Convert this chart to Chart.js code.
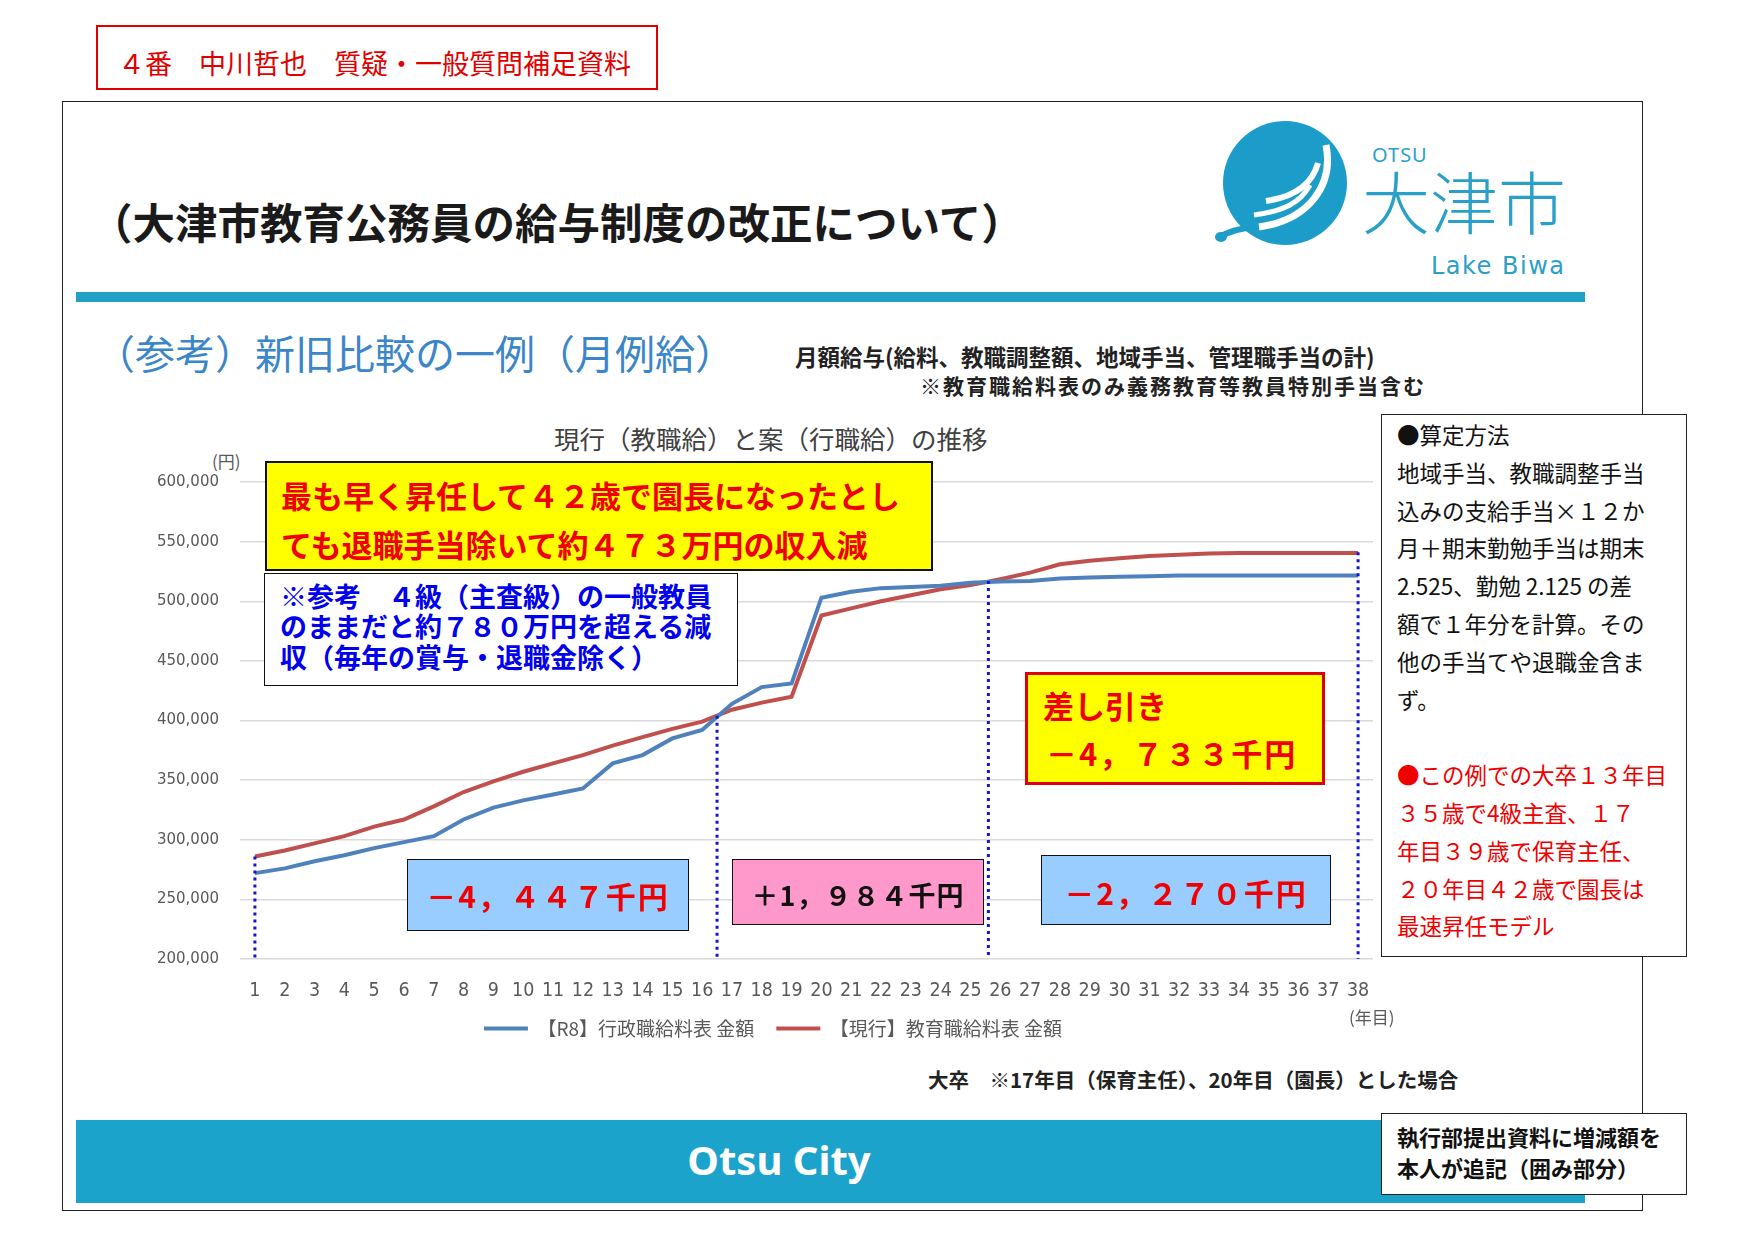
<!DOCTYPE html>
<html lang="ja">
<head>
<meta charset="utf-8">
<script src="https://cdn.jsdelivr.net/npm/chart.js@4.4.1/dist/chart.umd.min.js"></script>
<style>
  html, body { margin: 0; padding: 0; background: #fff; }
  body { width: 1754px; height: 1240px; position: relative; overflow: hidden;
         font-family: "Noto Sans CJK JP", "Noto Sans", sans-serif; }
  .abs { position: absolute; white-space: nowrap; line-height: 1; }
  .box { position: absolute; box-sizing: border-box; }
  #chartWrap { position: absolute; left: 140px; top: 440px; width: 1260px; height: 608px; }
</style>
</head>
<body>

<!-- header label -->
<div class="box" style="left:96px;top:25px;width:562px;height:65px;border:2.5px solid #e00000;"></div>
<div class="abs" style="left:118px;top:49px;font-size:27px;color:#e00000;">４番　中川哲也　質疑・一般質問補足資料</div>

<!-- slide frame -->
<div class="box" style="left:62px;top:101px;width:1581px;height:1110px;border:1.5px solid #222;"></div>

<div class="abs" style="left:90px;top:200px;font-size:42.5px;font-weight:bold;color:#1a1a1a;">（大津市教育公務員の給与制度の改正について）</div>

<!-- logo -->
<svg class="abs" style="left:1214px;top:115px;" width="150" height="140" viewBox="0 0 150 140">
  <circle cx="71" cy="68" r="62" fill="#1c9dc9"/>
  <path d="M112 30 C120 70 95 105 45 112" stroke="#fff" stroke-width="7" fill="none"/>
  <path d="M104 48 C98 70 80 82 52 86" stroke="#fff" stroke-width="6" fill="none"/>
  <path d="M96 70 C86 88 70 96 40 100" stroke="#fff" stroke-width="5" fill="none"/>
  <path d="M40 112 C30 113 15 116 6 122" stroke="#1c9dc9" stroke-width="6" fill="none"/>
  <ellipse cx="7" cy="122" rx="6" ry="5" fill="#1c9dc9"/>
</svg>
<div class="abs" style="left:1372px;top:145px;font-size:20px;color:#2aa0c8;font-family:'Noto Sans',sans-serif;letter-spacing:1px;">OTSU</div>
<div class="abs" style="left:1362px;top:166px;font-size:68px;color:#2aa0c8;font-weight:300;">大津市</div>
<div class="abs" style="left:1431px;top:254px;font-size:24px;color:#2aa0c8;font-family:'DejaVu Sans',sans-serif;letter-spacing:1.5px;">Lake Biwa</div>

<div class="box" style="left:76px;top:292px;width:1509px;height:10px;background:#21a1c6;"></div>

<div class="abs" style="left:95px;top:332px;font-size:40px;color:#3a86c8;">（参考）新旧比較の一例（月例給）</div>
<div class="abs" style="left:795px;top:345px;font-size:22.5px;font-weight:bold;color:#222;">月額給与(給料、教職調整額、地域手当、管理職手当の計)</div>
<div class="abs" style="left:920px;top:375px;font-size:21px;font-weight:bold;color:#222;letter-spacing:2px;">※教育職給料表のみ義務教育等教員特別手当含む</div>

<div class="abs" style="left:554px;top:425px;font-size:25.5px;color:#404040;">現行（教職給）と案（行職給）の推移</div>
<div class="abs" style="left:212px;top:452px;font-size:17px;color:#595959;">(円)</div>

<div id="chartWrap"><canvas id="salaryChart"></canvas></div>

<div class="abs" style="left:1349px;top:1008px;font-size:17px;color:#595959;">(年目)</div>

<!-- overlay boxes -->
<div class="box" style="left:265px;top:461px;width:668px;height:110px;background:#ffff00;border:2px solid #111;"></div>
<div class="abs" style="left:281px;top:479px;font-size:31px;font-weight:bold;color:#f00000;">最も早く昇任して４２歳で園長になったとし</div>
<div class="abs" style="left:281px;top:528px;font-size:31px;font-weight:bold;color:#f00000;">ても退職手当除いて約４７３万円の収入減</div>

<div class="box" style="left:264px;top:573px;width:474px;height:113px;background:#fff;border:1.5px solid #111;"></div>
<div class="abs" style="left:280px;top:582px;font-size:27px;font-weight:bold;color:#0000ee;">※参考　４級（主査級）の一般教員</div>
<div class="abs" style="left:280px;top:612px;font-size:27px;font-weight:bold;color:#0000ee;">のままだと約７８０万円を超える減</div>
<div class="abs" style="left:280px;top:643px;font-size:27px;font-weight:bold;color:#0000ee;">収（毎年の賞与・退職金除く）</div>

<div class="box" style="left:407px;top:859px;width:282px;height:72px;background:#99ccff;border:1.5px solid #111;"></div>
<div class="abs" style="left:407px;top:880px;width:282px;text-align:center;font-size:30px;font-weight:bold;color:#f00000;letter-spacing:2px;">－4，４４７千円</div>

<div class="box" style="left:732px;top:859px;width:252px;height:66px;background:#ff99cc;border:1.5px solid #111;"></div>
<div class="abs" style="left:732px;top:881px;width:252px;text-align:center;font-size:27px;font-weight:bold;color:#111;letter-spacing:1px;">＋1，９８４千円</div>

<div class="box" style="left:1041px;top:855px;width:290px;height:70px;background:#99ccff;border:1.5px solid #111;"></div>
<div class="abs" style="left:1041px;top:877px;width:290px;text-align:center;font-size:30px;font-weight:bold;color:#f00000;letter-spacing:2px;">－2，２７０千円</div>

<div class="box" style="left:1025px;top:672px;width:300px;height:113px;background:#ffff00;border:3px solid #e00000;"></div>
<div class="abs" style="left:1043px;top:689px;font-size:31px;font-weight:bold;color:#f00000;">差し引き</div>
<div class="abs" style="left:1046px;top:737px;font-size:31px;font-weight:bold;color:#f00000;letter-spacing:2px;">－4，７３３千円</div>

<!-- method box -->
<div class="box" style="left:1381px;top:414px;width:306px;height:543px;background:#fff;border:1.5px solid #222;"></div>
<div class="abs" style="left:1397px;top:416px;font-size:22.5px;line-height:37.8px;color:#111;">
●算定方法<br>地域手当、教職調整手当<br>込みの支給手当×１２か<br>月＋期末勤勉手当は期末<br>2.525、勤勉 2.125 の差<br>額で１年分を計算。その<br>他の手当てや退職金含ま<br>ず。<br><br>
<span style="color:#f00000;">●この例での大卒１３年目<br>３５歳で4級主査、１７<br>年目３９歳で保育主任、<br>２０年目４２歳で園長は<br>最速昇任モデル</span>
</div>

<div class="abs" style="left:928px;top:1069px;font-size:20.5px;font-weight:bold;color:#222;">大卒　※17年目（保育主任）、20年目（園長）とした場合</div>

<div class="box" style="left:76px;top:1120px;width:1509px;height:83px;background:#1ba3cc;"></div>
<div class="abs" style="left:76px;top:1140px;width:1406px;text-align:center;font-size:40px;font-weight:bold;color:#fff;font-family:'Noto Sans',sans-serif;">Otsu City</div>

<div class="box" style="left:1381px;top:1113px;width:306px;height:82px;background:#fff;border:1.5px solid #222;"></div>
<div class="abs" style="left:1397px;top:1125px;font-size:22px;font-weight:bold;color:#111;">執行部提出資料に増減額を</div>
<div class="abs" style="left:1397px;top:1156px;font-size:22px;font-weight:bold;color:#111;">本人が追記（囲み部分）</div>

<script>
// 年目
const years = ["1","2","3","4","5","6","7","8","9","10","11","12","13","14","15","16","17","18","19",
  "20","21","22","23","24","25","26","27","28","29","30","31","32","33","34","35","36","37","38"];

// 【R8】行政職給料表 金額 (円)
const gyoseiSalary = [272000, 276000, 282000, 287000, 293000, 298000, 303000, 317000, 327000, 333000,
  338000, 343000, 364000, 371000, 385000, 392000, 414000, 428000, 431000, 503000,
  508000, 511000, 512000, 513000, 515500, 516500, 517000, 519000, 520000, 520500,
  521000, 521500, 521500, 521500, 521500, 521500, 521500, 521500];

// 【現行】教育職給料表 金額 (円)
const kyoikuSalary = [286000, 291000, 297000, 303000, 311000, 317000, 328000, 340000, 349000, 357000,
  364000, 371000, 379000, 386000, 393000, 399000, 409000, 415000, 420000, 488000,
  494000, 500000, 505000, 510000, 513500, 518500, 524000, 531000, 534000, 536000,
  538000, 539000, 540000, 540500, 540500, 540500, 540500, 540500];

const yMin = 200000;
const yMax = 600000;
const yStep = 50000;

// dotted dividers: 年目 and the value where each one starts
const dividerYears = [1, 16.5, 25.6, 38];
const dividerTops = [286000, 404000, 517000, 541000];

const dividerPlugin = {
  id: "dividers",
  afterDatasetsDraw(chart) {
    const { ctx, scales: { x, y } } = chart;
    ctx.save();
    ctx.strokeStyle = "#1414d2";
    ctx.lineWidth = 3;
    ctx.setLineDash([3, 4]);
    dividerYears.forEach((yr, i) => {
      const px = x.getPixelForValue(yr - 1);
      ctx.beginPath();
      ctx.moveTo(px, y.getPixelForValue(dividerTops[i]));
      ctx.lineTo(px, y.bottom);
      ctx.stroke();
    });
    ctx.restore();
  }
};

// legend sits a bit right of the plot's centre in the original
const legendNudge = {
  id: "legendNudge",
  afterLayout(chart) {
    chart.legend.left += 9;
    chart.legend.right += 9;
  }
};

Chart.defaults.font.family = "'Noto Sans CJK JP', sans-serif";
Chart.defaults.color = "#595959";

new Chart(document.getElementById("salaryChart"), {
  type: "line",
  data: {
    labels: years,
    datasets: [{
      label: "【R8】行政職給料表 金額",
      data: gyoseiSalary,
      borderColor: "#4f81bd",
      backgroundColor: "#4f81bd",
      borderWidth: 4,
      pointRadius: 0,
      tension: 0
    }, {
      label: "【現行】教育職給料表 金額",
      data: kyoikuSalary,
      borderColor: "#c0504d",
      backgroundColor: "#c0504d",
      borderWidth: 4,
      pointRadius: 0,
      tension: 0
    }]
  },
  options: {
    responsive: true,
    maintainAspectRatio: false,
    animation: false,
    layout: { padding: { left: 15, right: 27, top: 42, bottom: 0 } },
    plugins: {
      legend: {
        position: "bottom",
        labels: {
          usePointStyle: true,
          pointStyle: "line",
          pointStyleWidth: 44,
          padding: 22,
          color: "#595959",
          font: { size: 19 }
        }
      },
      tooltip: { enabled: false }
    },
    scales: {
      x: {
        offset: true,
        grid: { display: false },
        border: { display: false },
        ticks: {
          padding: 12,
          maxRotation: 0,
          autoSkip: false,
          color: "#595959",
          font: { family: "'Liberation Sans Narrow', 'DejaVu Sans Condensed', sans-serif", size: 19.5 }
        },
        afterFit(scale) { scale.height = 38; }
      },
      y: {
        min: yMin,
        max: yMax,
        grid: { color: "#d9d9d9", lineWidth: 1.5, drawTicks: false },
        border: { display: false },
        ticks: {
          stepSize: yStep,
          padding: 21,
          color: "#595959",
          font: { family: "'DejaVu Sans', sans-serif", size: 15 },
          callback: v => v.toLocaleString("en-US")
        },
        afterFit(scale) { scale.width = 85; }
      }
    }
  },
  plugins: [dividerPlugin, legendNudge]
});
</script>
</body>
</html>
